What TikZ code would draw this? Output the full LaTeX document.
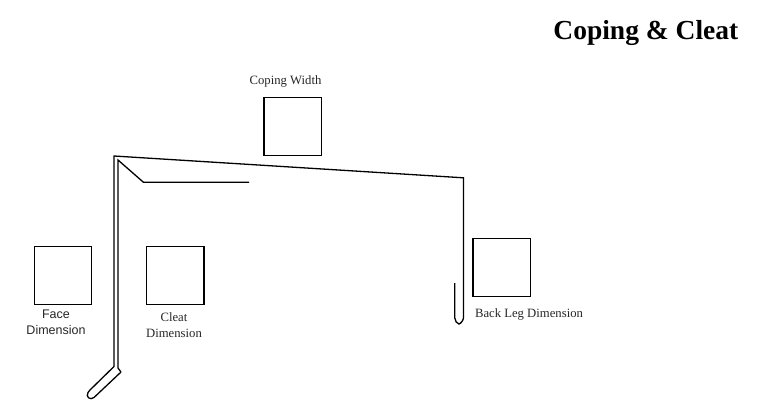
\documentclass[tikz,border=0pt]{standalone}
\usepackage{fontspec}
\setmainfont{Liberation Serif}
\newfontfamily\facefont{Liberation Sans}
\tikzset{
  dimbox/.style={draw=black,line width=1.3pt,minimum width=57.5pt,minimum height=58pt,inner sep=0pt,outer sep=0pt,anchor=north west},
  metal/.style={draw=black,line width=1.3pt,line join=miter},
  lbl/.style={inner sep=0pt,align=center,font=\fontsize{12.7}{16.5}\selectfont,text=black!85}
}
\begin{document}
\begin{tikzpicture}[x=1pt,y=-1pt]
\useasboundingbox (0,0) rectangle (759,412);
\node[anchor=base east,inner sep=0pt,font=\fontsize{27.5}{30}\selectfont\bfseries] (title) at (738.5,39.5) {Coping \& Cleat};
\node[dimbox] (coping) at (264,97.5) {};
\node[dimbox] (face) at (34.3,246.8) {};
\node[dimbox] (cleat) at (146.5,246.8) {};
\node[dimbox] (back) at (473,238.5) {};
\node[lbl] (copinglbl) at (285.5,81) {Coping Width};
\node[lbl,font=\facefont\fontsize{12.5}{16.5}\selectfont] (facelbl) at (56,322.5) {Face\\Dimension};
\node[lbl] (cleatlbl) at (174,325) {Cleat\\Dimension};
\node[lbl] (backlbl) at (529,314.5) {Back Leg Dimension};
% Coping profile
\draw[metal] (118,368) -- (118,160) -- (143.5,182.3) -- (249,182.3);
\draw[metal] (121,372) -- (118,368);
\draw[metal] (121,372) -- (94,397.5)
  .. controls (90,400.5) and (85.5,397) .. (88,392.5)
  -- (90,390) -- (114,366.5) -- (114,156) -- (463.4,177.8) -- (463.4,318)
  .. controls (463.4,320) and (461,323.5) .. (459,324)
  .. controls (457,323.5) and (454.8,321) .. (454.8,318) -- (454.8,283);
\end{tikzpicture}
\end{document}
